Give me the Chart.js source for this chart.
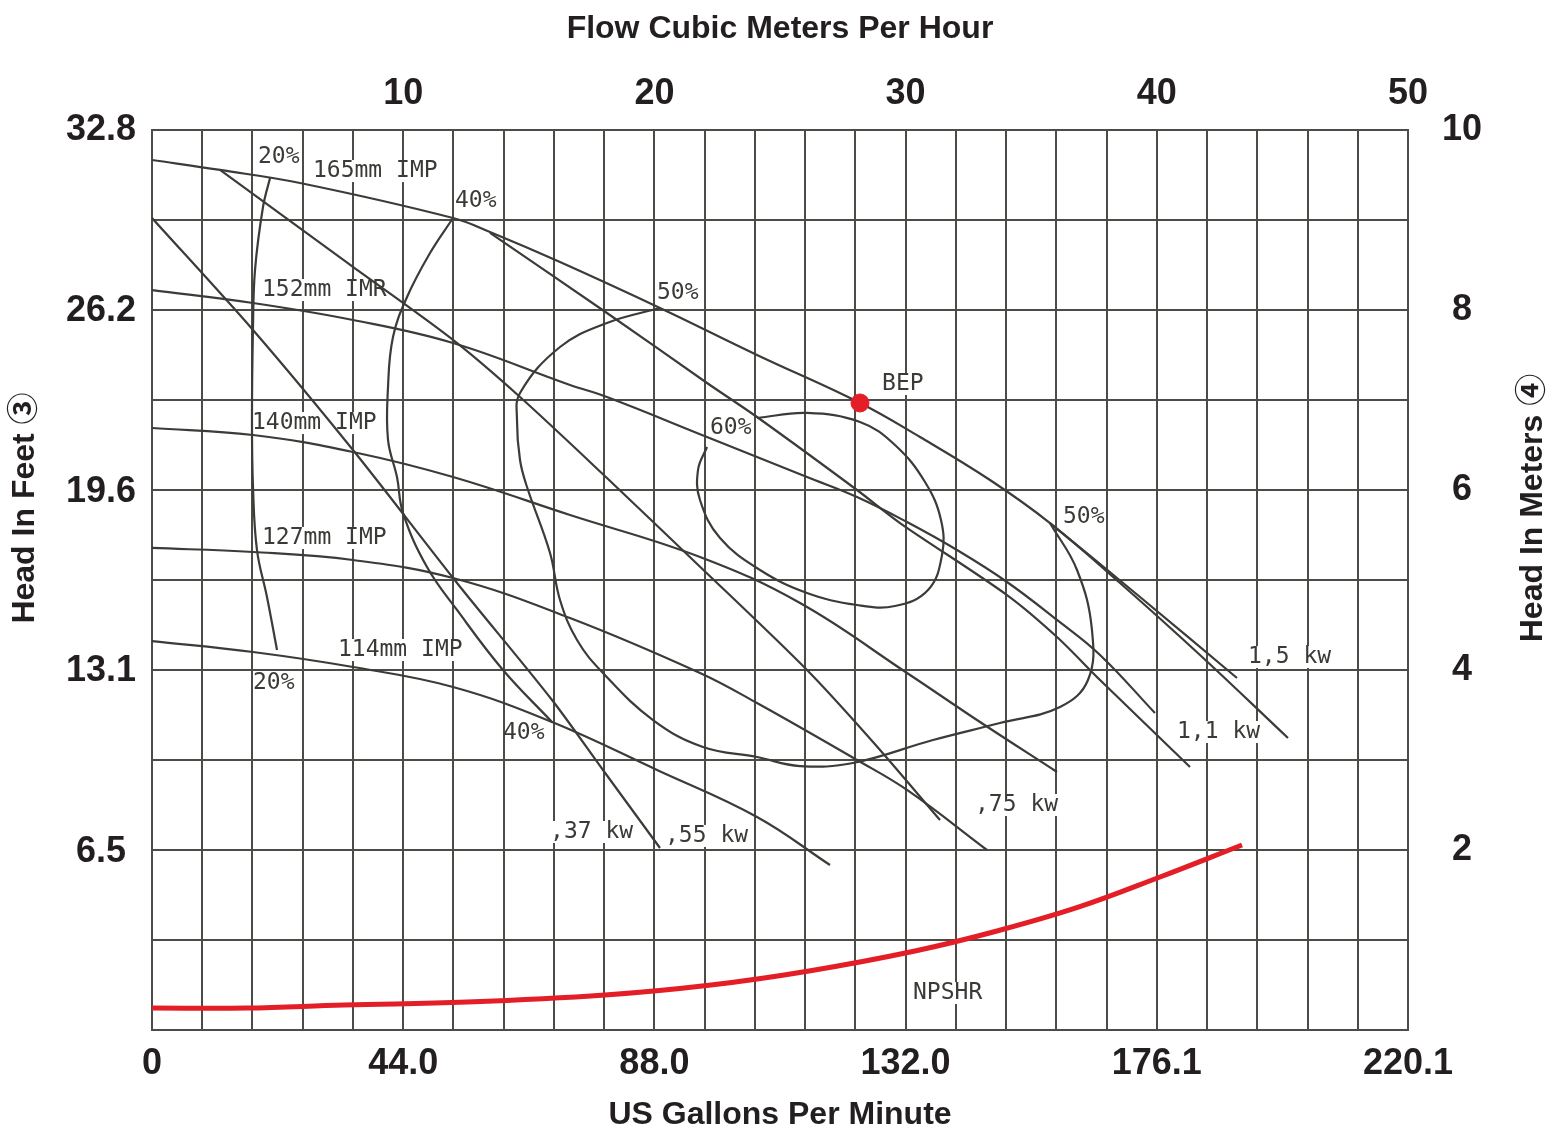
<!DOCTYPE html>
<html>
<head>
<meta charset="utf-8">
<script src="https://cdn.jsdelivr.net/npm/chart.js@4.4.1/dist/chart.umd.min.js"></script>
<style>
  html, body { margin: 0; padding: 0; background: #fff; }
  #wrap { width: 1549px; height: 1129px; }
</style>
</head>
<body>
<div id="wrap"><canvas id="pumpChart"></canvas></div>
<script>
// flow in US gpm (bottom), head in meters (right)
const gpmMax = 220.1
const m3hMax = 50
const headMax = 10
const feetMax = 32.81

const gpmTickLabels = ['0', '44.0', '88.0', '132.0', '176.1', '220.1']
const m3hTicks = [10, 20, 30, 40, 50]
const meterTicks = [2, 4, 6, 8, 10]
const feetTicks = [6.5, 13.1, 19.6, 26.2, 32.8]

// impeller head curves [gpm, m]
const imp165 = [[0, 9.667], [11.92, 9.556], [25.94, 9.411], [52.75, 9.022], [59.23, 8.867], [71.5, 8.533], [89.02, 8.022], [106.02, 7.5], [124.07, 6.967], [134.58, 6.589], [146.85, 6.111], [157.36, 5.633], [169.63, 4.967], [183.65, 4.167], [199.07, 3.244]]
const imp152 = [[0, 8.222], [17.7, 8.078], [35.22, 7.889], [52.75, 7.633], [73.25, 7.167], [79.73, 7.033], [97.26, 6.589], [114.78, 6.144], [123.54, 5.922], [132.31, 5.644], [141.07, 5.333], [149.83, 4.978], [158.59, 4.556], [166.13, 4.167], [175.76, 3.522]]
const imp140 = [[0, 6.689], [17.7, 6.611], [35.22, 6.422], [52.75, 6.144], [73.25, 5.722], [96.03, 5.256], [113.56, 4.744], [132.31, 3.967], [145.1, 3.422], [158.59, 2.867]]
const imp127 = [[0, 5.356], [17.7, 5.311], [35.22, 5.222], [52.75, 5.022], [73.25, 4.578], [96.03, 3.967], [106.02, 3.633], [123.54, 3.0], [132.31, 2.667], [146.32, 2.0]]
const imp114 = [[0, 4.322], [17.7, 4.2], [35.22, 4.033], [52.75, 3.811], [70.1, 3.422], [88.5, 2.889], [106.02, 2.367], [118.81, 1.833]]

// power lines
const powerA = [[0, 9.022], [17.7, 7.778], [35.22, 6.444], [53.45, 4.967], [70.1, 3.667], [79.03, 2.889], [89.02, 2.022]]
const powerB = [[11.92, 9.556], [35.22, 8.478], [52.75, 7.667], [64.49, 7.033], [79.73, 6.133], [94.8, 5.222], [114.78, 4.0], [126.35, 3.2], [138.09, 2.333]]
const powerC = [[59.23, 8.856], [79.73, 7.967], [97.26, 7.189], [106.02, 6.811], [123.54, 6.0], [131.08, 5.633], [149.83, 4.833], [158.59, 4.367], [166.13, 3.889], [181.9, 2.922]]
const powerD = [[157.36, 5.633], [173.14, 4.811], [190.13, 3.911]]

// efficiency contours
const eff20 = [[20.68, 9.467], [19.45, 9.144], [18.05, 8.444], [17.7, 7.811], [17.52, 6.778], [17.7, 6.033], [18.4, 5.333], [20.15, 4.811], [21.91, 4.222]]
const eff40 = [[52.75, 9.022], [48.72, 8.633], [44.69, 8.144], [42.23, 7.7], [41.36, 7.144], [41.36, 6.556], [42.93, 6.144], [43.99, 5.744], [48.19, 5.144], [53.45, 4.667], [61.51, 4.0], [70.1, 3.422]]
const eff50 = [[89.02, 8.022], [79.73, 7.856], [71.5, 7.589], [64.49, 7.078], [63.96, 6.778], [64.49, 6.333], [65.72, 6.033], [69.75, 5.3], [71.5, 4.778], [74.48, 4.333], [79.03, 3.967], [87.8, 3.444], [96.56, 3.144], [106.02, 3.033], [113.56, 2.933], [122.84, 2.967], [136.86, 3.222], [148.6, 3.411], [159.12, 3.589], [164.02, 3.889], [164.72, 4.444], [162.1, 5.111], [157.36, 5.633]]
const eff60 = [[97.26, 6.478], [95.68, 6.222], [96.03, 5.889], [99.54, 5.467], [106.55, 5.111], [114.78, 4.856], [123.54, 4.722], [130.2, 4.711], [135.99, 4.889], [138.44, 5.278], [138.26, 5.667], [135.46, 6.089], [130.2, 6.5], [124.07, 6.756], [114.78, 6.856], [106.02, 6.8]]

// NPSHR and best efficiency point
const npshr = [[0, 0.244], [16.47, 0.244], [33.65, 0.278], [55.2, 0.311], [79.38, 0.389], [97.96, 0.5], [115.13, 0.656], [133.71, 0.878], [148.08, 1.1], [162.45, 1.367], [176.64, 1.7], [191.01, 2.056]]
const bep = [[124.07, 6.967]]

// text written on the sheet: [text, gpm at left edge, m at middle, white behind]
const sheetLabels = [
  ['20%', 18.58, 9.7, false],
  ['165mm IMP', 28.21, 9.544, true],
  ['40%', 53.1, 9.211, false],
  ['152mm IMR', 19.28, 8.222, true],
  ['50%', 88.5, 8.189, false],
  ['BEP', 127.93, 7.178, true],
  ['140mm IMP', 17.52, 6.744, true],
  ['60%', 97.78, 6.689, false],
  ['127mm IMP', 19.28, 5.467, true],
  ['50%', 159.64, 5.7, false],
  ['114mm IMP', 32.59, 4.222, true],
  ['20%', 17.7, 3.856, false],
  ['1,5 kw', 192.06, 4.144, true],
  ['40%', 61.51, 3.3, false],
  ['1,1 kw', 179.62, 3.311, true],
  [',75 kw', 144.22, 2.5, true],
  [',37 kw', 69.75, 2.2, true],
  [',55 kw', 89.9, 2.156, true],
  ['NPSHR', 133.36, 0.411, true]
]

const gridColor = '#4b4b47'
const curveColor = '#3b3b38'
const inkColor = '#231f20'
const red = '#e41e26'
const axisFont = "'Liberation Sans', Arial, 'Noto Sans CJK JP', sans-serif"
const labelFont = "23px 'DejaVu Sans Mono', monospace"

const pts = arr => arr.map(p => ({ x: p[0], y: p[1] }))
const curve = (arr, tension) => ({
  data: pts(arr),
  borderColor: curveColor,
  borderWidth: 2.2,
  pointRadius: 0,
  tension: tension,
  fill: false,
  xAxisID: 'x',
  yAxisID: 'y'
})

const sideTitle = (ctx, text, x, y) => {
  ctx.save()
  ctx.translate(x, y)
  ctx.rotate(-Math.PI / 2)
  ctx.font = 'bold 32px ' + axisFont
  ctx.fillStyle = inkColor
  ctx.textAlign = 'center'
  ctx.textBaseline = 'middle'
  ctx.fillText(text, 0, 0)
  ctx.restore()
}

const sheetText = {
  id: 'sheetText',
  beforeDatasetsDraw(chart) {
    const ctx = chart.ctx
    const sx = chart.scales.x, sy = chart.scales.y
    ctx.save()
    ctx.font = labelFont
    ctx.fillStyle = '#fff'
    sheetLabels.forEach(l => {
      if (!l[3]) return
      const w = ctx.measureText(l[0]).width
      ctx.fillRect(sx.getPixelForValue(l[1]) - 3, sy.getPixelForValue(l[2]) - 11, w + 6, 22)
    })
    ctx.restore()
  },
  afterDatasetsDraw(chart) {
    const ctx = chart.ctx
    const sx = chart.scales.x, sy = chart.scales.y
    ctx.save()
    ctx.font = labelFont
    ctx.fillStyle = '#3a3a36'
    ctx.textAlign = 'left'
    ctx.textBaseline = 'middle'
    sheetLabels.forEach(l => ctx.fillText(l[0], sx.getPixelForValue(l[1]), sy.getPixelForValue(l[2])))
    ctx.restore()
  },
  afterDraw(chart) {
    // both head titles read bottom to top, sitting a bit above the middle
    const a = chart.chartArea
    const midY = a.top + (a.bottom - a.top) * 0.42
    sideTitle(chart.ctx, 'Head In Feet \u2462', 25, midY)
    sideTitle(chart.ctx, 'Head In Meters \u2463', chart.width - 16, midY)
  }
}

const tickFont = { family: axisFont, size: 36, weight: 'bold' }
const titleFont = { family: axisFont, size: 32, weight: 'bold' }

const pumpChart = new Chart(document.getElementById('pumpChart'), {
  type: 'line',
  data: {
    datasets: [
      { type: 'scatter', data: pts(bep), backgroundColor: red, borderColor: red, pointRadius: 9, xAxisID: 'x', yAxisID: 'y' },
      { data: pts(npshr), borderColor: red, borderWidth: 5, pointRadius: 0, tension: 0.4, xAxisID: 'x', yAxisID: 'y' },
      curve(imp165, 0.4),
      curve(imp152, 0.4),
      curve(imp140, 0.4),
      curve(imp127, 0.4),
      curve(imp114, 0.4),
      curve(powerA, 0.3),
      curve(powerB, 0.3),
      curve(powerC, 0.3),
      curve(powerD, 0.3),
      curve(eff20, 0.4),
      curve(eff40, 0.4),
      curve(eff50, 0.4),
      curve(eff60, 0.4)
    ]
  },
  options: {
    responsive: true,
    maintainAspectRatio: false,
    animation: false,
    layout: { padding: 0 },
    plugins: { legend: { display: false }, tooltip: { enabled: false } },
    scales: {
      x: {
        type: 'linear', position: 'bottom', min: 0, max: gpmMax,
        afterBuildTicks: s => { s.ticks = Array.from({ length: 26 }, (_, i) => ({ value: i * gpmMax / 25 })) },
        afterFit: s => { s.height = 99 },
        grid: { color: gridColor, lineWidth: 2, drawTicks: false },
        border: { color: gridColor, width: 2 },
        ticks: {
          autoSkip: false, maxRotation: 0, padding: 12, color: inkColor, font: tickFont,
          callback: (v, i) => (i % 5 === 0 ? gpmTickLabels[i / 5] : '')
        },
        title: { display: true, text: 'US Gallons Per Minute', color: inkColor, font: titleFont, padding: { top: 0, bottom: -5 } }
      },
      x2: {
        type: 'linear', position: 'top', min: 0, max: m3hMax,
        afterBuildTicks: s => { s.ticks = m3hTicks.map(v => ({ value: v })) },
        afterFit: s => { s.height = 130 },
        grid: { display: false, drawTicks: false },
        border: { display: false },
        ticks: { autoSkip: false, maxRotation: 0, padding: 14, color: inkColor, font: tickFont },
        title: { display: true, text: 'Flow Cubic Meters Per Hour', color: inkColor, font: titleFont, padding: { top: 10, bottom: 0 } }
      },
      y: {
        type: 'linear', position: 'right', min: 0, max: headMax,
        afterBuildTicks: s => { s.ticks = Array.from({ length: 11 }, (_, i) => ({ value: i })) },
        afterFit: s => { s.width = 141 },
        grid: { color: gridColor, lineWidth: 2, drawTicks: false },
        border: { color: gridColor, width: 2 },
        ticks: {
          autoSkip: false, padding: 34, crossAlign: 'center', color: inkColor, font: tickFont,
          callback: v => (meterTicks.includes(v) ? String(v) : '')
        }
      },
      yFt: {
        type: 'linear', position: 'left', min: 0, max: feetMax,
        afterBuildTicks: s => { s.ticks = feetTicks.map(v => ({ value: v })) },
        afterFit: s => { s.width = 152 },
        grid: { display: false, drawTicks: false },
        border: { color: gridColor, width: 2 },
        ticks: {
          autoSkip: false, padding: 16, crossAlign: 'center', color: inkColor, font: tickFont,
          callback: v => v.toFixed(1)
        }
      }
    }
  },
  plugins: [sheetText]
})
</script>
</body>
</html>
